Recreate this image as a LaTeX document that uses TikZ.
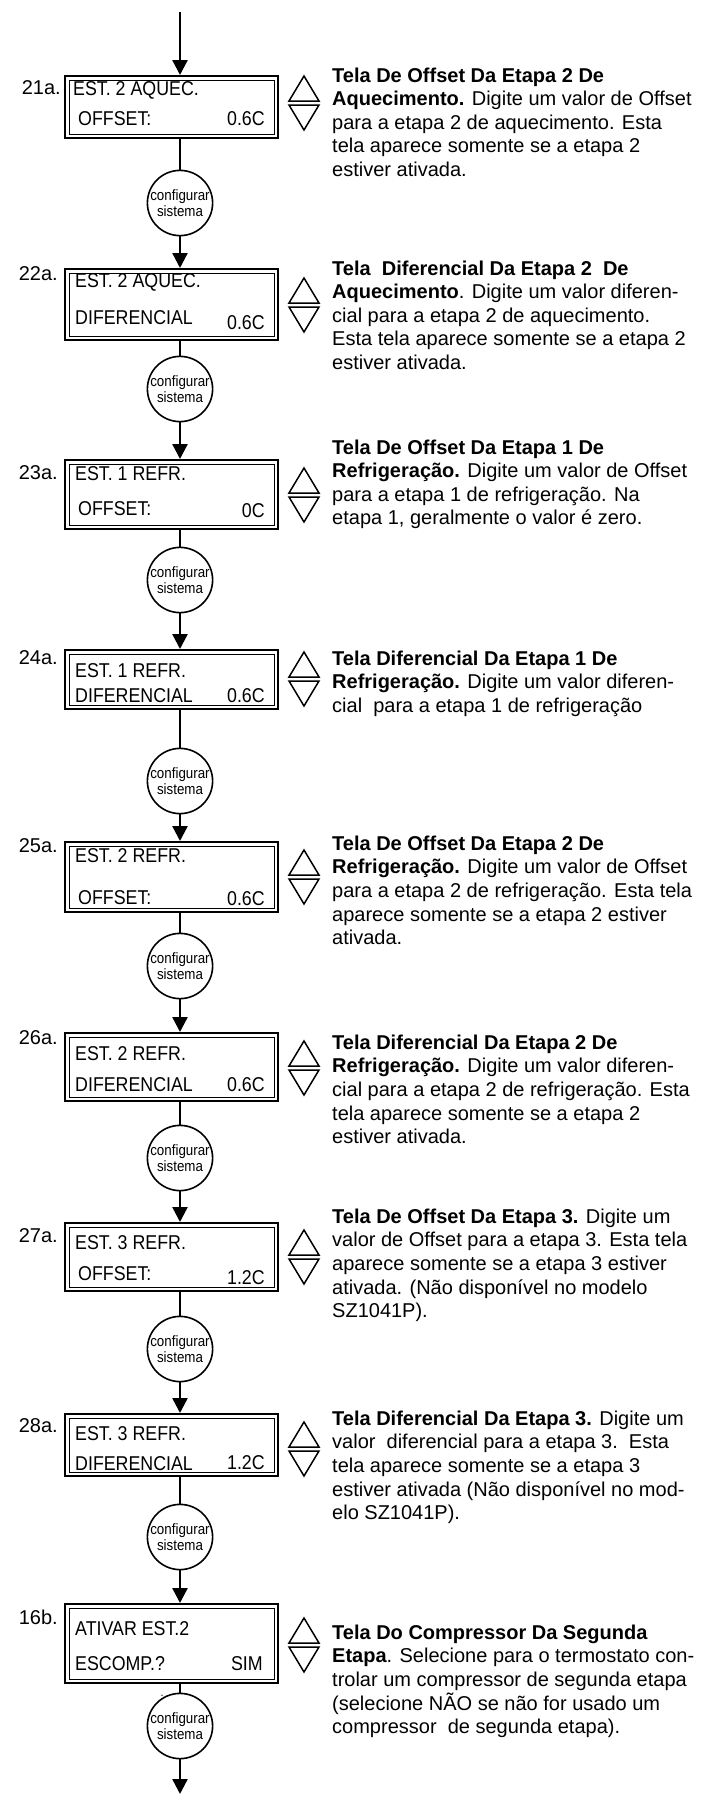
\documentclass[tikz,border=0pt]{standalone}
\usepackage{fontspec}
\setmainfont{Liberation Sans}
\newfontfamily\telafont[FakeStretch=0.89]{Liberation Sans}
\usetikzlibrary{arrows.meta}

\tikzset{
  tela/.style={draw, line width=1.9pt, minimum width=213pt, inner sep=0pt, anchor=north west,
    path picture={\draw[line width=0.8pt]
      ([shift={(4pt,-4pt)}]path picture bounding box.north west) rectangle
      ([shift={(-4pt,4pt)}]path picture bounding box.south east);}},
  visor/.style={font=\telafont\fontsize{20}{24}\selectfont, inner sep=0pt, text height=14.3pt, text depth=0pt},
  rotulo/.style={font=\fontsize{20}{24}\selectfont, inner sep=0pt, anchor=east, text height=14.3pt, text depth=0pt},
  descr/.style={font=\fontsize{20}{23.6}\selectfont, inner sep=0pt, anchor=north west, align=left},
  config/.style={draw, circle, line width=1.6pt, minimum size=64pt, inner sep=0pt, align=center,
    font=\telafont\fontsize{15}{16}\selectfont},
  fluxo/.style={line width=2.4pt},
  seta/.style={fluxo, -{Triangle[width=15pt,length=15pt]}},
}

\begin{document}
\begin{tikzpicture}[x=1pt,y=1pt]
  \useasboundingbox (0,0) rectangle (712,-1796);

  % telas
  \node[tela, minimum height=62pt] (s21a) at (64,-75) {};
  \node[visor, anchor=west] (s21a1) at ([shift={(9pt,-13pt)}]s21a.north west) {EST. 2 AQUEC.};
  \node[visor, anchor=west] (s21a2) at ([shift={(14pt,-43pt)}]s21a.north west) {OFFSET:};
  \node[visor, anchor=east] (s21a3) at ([shift={(-14pt,-43pt)}]s21a.north east) {0.6C};

  \node[tela, minimum height=71pt] (s22a) at (64,-268) {};
  \node[visor, anchor=west] (s22a1) at ([shift={(11pt,-12pt)}]s22a.north west) {EST. 2 AQUEC.};
  \node[visor, anchor=west] (s22a2) at ([shift={(11pt,-49pt)}]s22a.north west) {DIFERENCIAL};
  \node[visor, anchor=east] (s22a3) at ([shift={(-14pt,-54pt)}]s22a.north east) {0.6C};

  \node[tela, minimum height=69pt] (s23a) at (64,-459) {};
  \node[visor, anchor=west] (s23a1) at ([shift={(11pt,-14pt)}]s23a.north west) {EST. 1 REFR.};
  \node[visor, anchor=west] (s23a2) at ([shift={(14pt,-49pt)}]s23a.north west) {OFFSET:};
  \node[visor, anchor=east] (s23a3) at ([shift={(-14pt,-51pt)}]s23a.north east) {0C};

  \node[tela, minimum height=59pt] (s24a) at (64,-649) {};
  \node[visor, anchor=west] (s24a1) at ([shift={(11pt,-21pt)}]s24a.north west) {EST. 1 REFR.};
  \node[visor, anchor=west] (s24a2) at ([shift={(11pt,-46pt)}]s24a.north west) {DIFERENCIAL};
  \node[visor, anchor=east] (s24a3) at ([shift={(-14pt,-46pt)}]s24a.north east) {0.6C};

  \node[tela, minimum height=70pt] (s25a) at (64,-841) {};
  \node[visor, anchor=west] (s25a1) at ([shift={(11pt,-14pt)}]s25a.north west) {EST. 2 REFR.};
  \node[visor, anchor=west] (s25a2) at ([shift={(14pt,-56pt)}]s25a.north west) {OFFSET:};
  \node[visor, anchor=east] (s25a3) at ([shift={(-14pt,-57pt)}]s25a.north east) {0.6C};

  \node[tela, minimum height=68pt] (s26a) at (64,-1032) {};
  \node[visor, anchor=west] (s26a1) at ([shift={(11pt,-21pt)}]s26a.north west) {EST. 2 REFR.};
  \node[visor, anchor=west] (s26a2) at ([shift={(11pt,-52pt)}]s26a.north west) {DIFERENCIAL};
  \node[visor, anchor=east] (s26a3) at ([shift={(-14pt,-52pt)}]s26a.north east) {0.6C};

  \node[tela, minimum height=68pt] (s27a) at (64,-1222) {};
  \node[visor, anchor=west] (s27a1) at ([shift={(11pt,-20pt)}]s27a.north west) {EST. 3 REFR.};
  \node[visor, anchor=west] (s27a2) at ([shift={(14pt,-51pt)}]s27a.north west) {OFFSET:};
  \node[visor, anchor=east] (s27a3) at ([shift={(-14pt,-55pt)}]s27a.north east) {1.2C};

  \node[tela, minimum height=62pt] (s28a) at (64,-1413) {};
  \node[visor, anchor=west] (s28a1) at ([shift={(11pt,-20pt)}]s28a.north west) {EST. 3 REFR.};
  \node[visor, anchor=west] (s28a2) at ([shift={(11pt,-50pt)}]s28a.north west) {DIFERENCIAL};
  \node[visor, anchor=east] (s28a3) at ([shift={(-14pt,-49pt)}]s28a.north east) {1.2C};

  \node[tela, minimum height=79pt] (s16b) at (64,-1603) {};
  \node[visor, anchor=west] (s16b1) at ([shift={(11pt,-25pt)}]s16b.north west) {ATIVAR EST.2};
  \node[visor, anchor=west] (s16b2) at ([shift={(11pt,-60pt)}]s16b.north west) {ESCOMP.?};
  \node[visor, anchor=east] (s16b3) at ([shift={(-16pt,-60pt)}]s16b.north east) {SIM};
  \node[font=\telafont\fontsize{12}{12}\selectfont, inner sep=0pt] (ponto) at (162,-1696) {.};

  % numeros
  \node[rotulo] (r21a) at (61,-87) {21a.};
  \node[rotulo] (r22a) at (58,-273) {22a.};
  \node[rotulo] (r23a) at (58,-472) {23a.};
  \node[rotulo] (r24a) at (58,-657) {24a.};
  \node[rotulo] (r25a) at (58,-845) {25a.};
  \node[rotulo] (r26a) at (58,-1037) {26a.};
  \node[rotulo] (r27a) at (58,-1235) {27a.};
  \node[rotulo] (r28a) at (58,-1425) {28a.};
  \node[rotulo] (r16b) at (58,-1617) {16b.};

  % configurar sistema
  \foreach \n/\y in {1/203,2/389,3/580,4/781,5/966,6/1158,7/1349,8/1537,9/1726}
    \node[config] (c\n) at (180,-\y) {configurar\\sistema};

  \coordinate (entrada) at (180,-12);
  \coordinate (saida) at (180,-1794);
  \draw[seta] (entrada) -- (entrada |- s21a.north);
  \foreach \a/\n/\b in {21a/1/22a,22a/2/23a,23a/3/24a,24a/4/25a,25a/5/26a,26a/6/27a,27a/7/28a,28a/8/16b}{
    \draw[fluxo] (s\a.south -| c\n) -- (c\n.north);
    \draw[seta] (c\n.south) -- (c\n.south |- s\b.north);
  }
  \draw[fluxo] (s16b.south -| c9) -- (c9.north);
  \draw[seta] (c9.south) -- (saida);

  % setas para cima / para baixo
  \foreach \y in {103,305,495,679,877,1068,1257,1449,1645}{
    \draw[line width=1.5pt] (304,-\y) ++(-15,2) -- ++(15,25) -- ++(15,-25) -- cycle;
    \draw[line width=1.5pt] (304,-\y) ++(-15,-2) -- ++(15,-25) -- ++(15,25) -- cycle;
  }

  % textos
  \node[descr] (d21a) at (332,-67.5) {\textbf{Tela De Offset Da Etapa 2 De}\\
    \textbf{Aquecimento.} Digite um valor de Offset\\
    para a etapa 2 de aquecimento. Esta\\
    tela aparece somente se a etapa 2\\
    estiver ativada.};
  \node[descr] (d22a) at (332,-260.5) {\textbf{Tela\ \ Diferencial Da Etapa 2\ \ De}\\
    \textbf{Aquecimento}. Digite um valor diferen-\\
    cial para a etapa 2 de aquecimento.\\
    Esta tela aparece somente se a etapa 2\\
    estiver ativada.};
  \node[descr] (d23a) at (332,-439.5) {\textbf{Tela De Offset Da Etapa 1 De}\\
    \textbf{Refrigeração.} Digite um valor de Offset\\
    para a etapa 1 de refrigeração. Na\\
    etapa 1, geralmente o valor é zero.};
  \node[descr] (d24a) at (332,-650.5) {\textbf{Tela Diferencial Da Etapa 1 De}\\
    \textbf{Refrigeração.} Digite um valor diferen-\\
    cial\ \ para a etapa 1 de refrigeração};
  \node[descr] (d25a) at (332,-835.5) {\textbf{Tela De Offset Da Etapa 2 De}\\
    \textbf{Refrigeração.} Digite um valor de Offset\\
    para a etapa 2 de refrigeração. Esta tela\\
    aparece somente se a etapa 2 estiver\\
    ativada.};
  \node[descr] (d26a) at (332,-1034.5) {\textbf{Tela Diferencial Da Etapa 2 De}\\
    \textbf{Refrigeração.} Digite um valor diferen-\\
    cial para a etapa 2 de refrigeração. Esta\\
    tela aparece somente se a etapa 2\\
    estiver ativada.};
  \node[descr] (d27a) at (332,-1208.5) {\textbf{Tela De Offset Da Etapa 3.} Digite um\\
    valor de Offset para a etapa 3. Esta tela\\
    aparece somente se a etapa 3 estiver\\
    ativada. (Não disponível no modelo\\
    SZ1041P).};
  \node[descr] (d28a) at (332,-1410.5) {\textbf{Tela Diferencial Da Etapa 3.} Digite um\\
    valor\ \ diferencial para a etapa 3.\ \ Esta\\
    tela aparece somente se a etapa 3\\
    estiver ativada (Não disponível no mod-\\
    elo SZ1041P).};
  \node[descr] (d16b) at (332,-1624.5) {\textbf{Tela Do Compressor Da Segunda}\\
    \textbf{Etapa}. Selecione para o termostato con-\\
    trolar um compressor de segunda etapa\\
    (selecione NÃO se não for usado um\\
    compressor\ \ de segunda etapa).};
\end{tikzpicture}
\end{document}
